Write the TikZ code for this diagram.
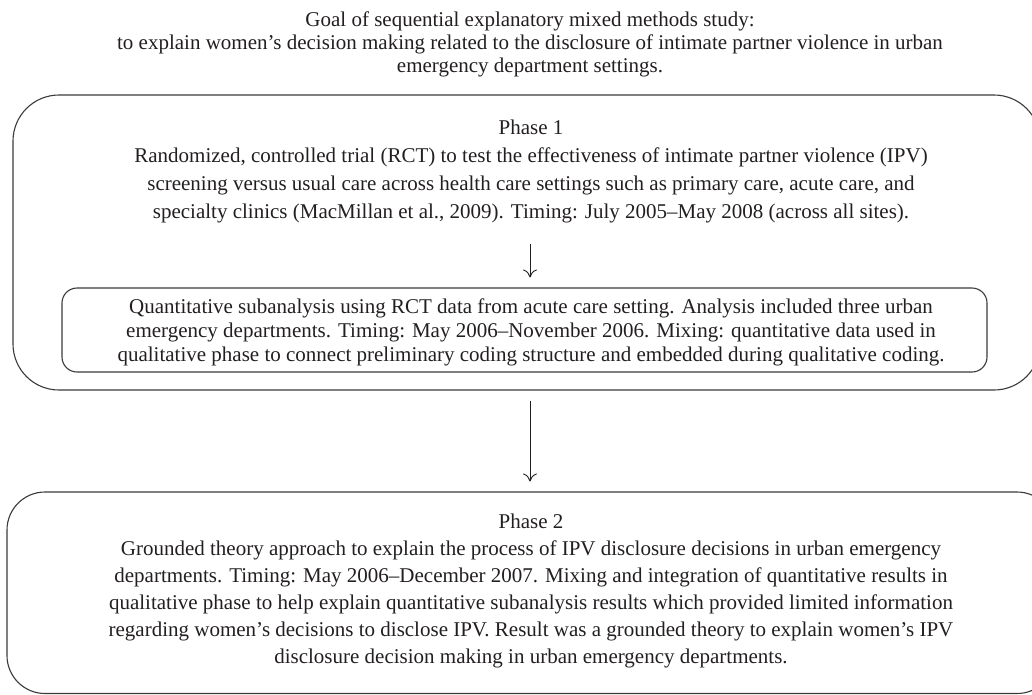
\documentclass[tikz,border=0pt]{standalone}
\usepackage{fontspec}
\setmainfont{Liberation Serif}
\usetikzlibrary{arrows.meta}
\definecolor{ink}{HTML}{231F20}
\definecolor{frame}{HTML}{3A3A3A}
\begin{document}
\begin{tikzpicture}[x=1pt,y=-1pt,
  txt/.style={inner sep=0pt, align=center, text=ink},
  lead/.style={font=\fontsize{21}{#1}\selectfont},
  bigbox/.style={draw=frame, line width=1.1pt, rectangle, inner sep=0pt},
  arr/.style={draw=ink, line width=0.9pt, -{To[length=8pt,width=14pt]}}]
\useasboundingbox (0,0) rectangle (1032,694);

\node[txt, lead=23] (goal) at (530,44.1)
  {Goal of sequential explanatory mixed methods study:\\
   to explain women's decision making related to the disclosure of intimate partner violence in urban\\
   emergency department settings.};

\node[bigbox, rounded corners=46pt, minimum width=1027pt, minimum height=295pt] (p1box) at (526.5,242.5) {};
\node[txt, lead=28] (p1text) at (531,171.1)
  {Phase 1\\
   Randomized, controlled trial (RCT) to test the effectiveness of intimate partner violence (IPV)\\
   screening versus usual care across health care settings such as primary care, acute care, and\\
   specialty clinics (MacMillan et al., 2009). Timing: July 2005--May 2008 (across all sites).};

\node[bigbox, rounded corners=15pt, minimum width=925pt, minimum height=84pt] (inbox) at (524.5,330) {};
\node[txt, lead=24] (intext) at (531,332.1)
  {Quantitative subanalysis using RCT data from acute care setting. Analysis included three urban\\
   emergency departments. Timing: May 2006--November 2006. Mixing: quantitative data used in\\
   qualitative phase to connect preliminary coding structure and embedded during qualitative coding.};

\node[bigbox, rounded corners=38pt, minimum width=1048pt, minimum height=201.5pt] (p2box) at (531,592.75) {};
\node[txt, lead=27] (p2text) at (531,591.1)
  {Phase 2\\
   Grounded theory approach to explain the process of IPV disclosure decisions in urban emergency\\
   departments. Timing: May 2006--December 2007. Mixing and integration of quantitative results in\\
   qualitative phase to help explain quantitative subanalysis results which provided limited information\\
   regarding women's decisions to disclose IPV. Result was a grounded theory to explain women's IPV\\
   disclosure decision making in urban emergency departments.};

\coordinate (ax) at (530,0);
\draw[arr, shorten <=21pt, shorten >=10pt] (ax |- p1text.south) -- (ax |- inbox.north);
\draw[arr, shorten <=10pt, shorten >=10pt] (ax |- p1box.south) -- (ax |- p2box.north);
\end{tikzpicture}
\end{document}
